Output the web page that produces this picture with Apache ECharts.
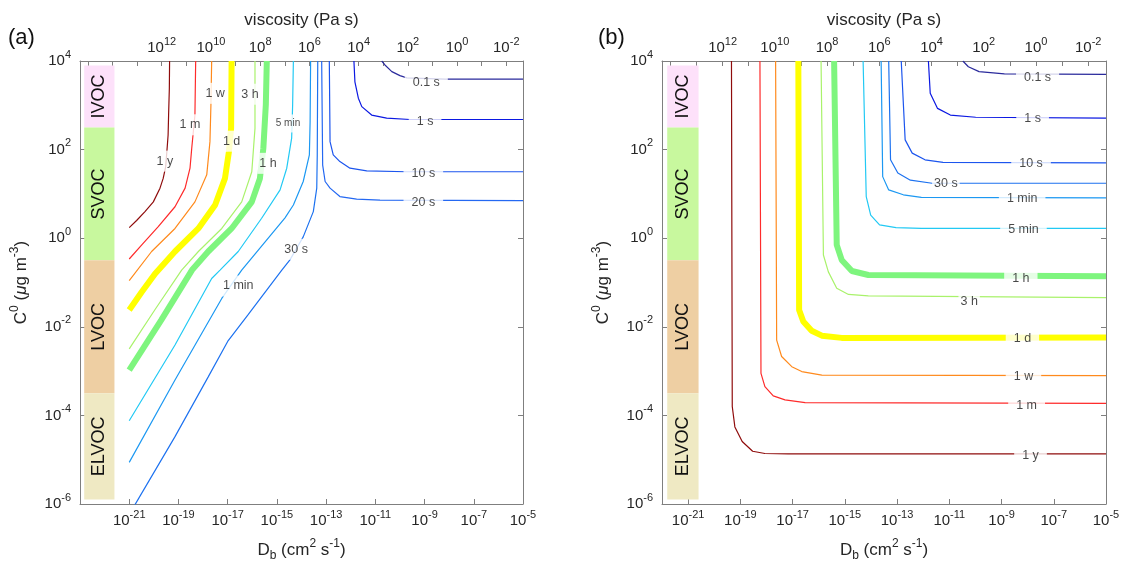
<!DOCTYPE html>
<html>
<head>
<meta charset="utf-8">
<title>equilibration time</title>
<script src="https://cdn.jsdelivr.net/npm/echarts@6.0.0/dist/echarts.min.js"></script>
<style>
  html, body { margin: 0; padding: 0; background: #fff; }
  #chart { width: 1126px; height: 574px; }
</style>
</head>
<body>
<div id="chart"></div>
<script>
// every value is a log10: x = log10(Db / cm2 s-1), y = log10(C0 / ug m-3)
const font = 'Liberation Sans, Arial, Helvetica, sans-serif'
const textColor = '#262626'
const axisColor = '#7f7f7f'

// log10(eta / Pa s) = viscosityOffset - log10(Db)
const viscosityOffset = -7.68

const dbTicks = [-21, -19, -17, -15, -13, -11, -9, -7, -5]
const viscosityTicks = [15, 14, 13, 12, 11, 10, 9, 8, 7, 6, 5, 4, 3, 2, 1, 0, -1, -2]
const viscosityLabels = [12, 10, 8, 6, 4, 2, 0, -2]

const bandNames = ['IVOC', 'SVOC', 'LVOC', 'ELVOC']
const bandLow = [2.5, -0.5, -3.5, -5.9]
const bandHigh = [3.9, 2.5, -0.5, -3.5]
const bandColors = ['#fde1fa', '#c8f89e', '#eecfa3', '#efe9c3']

const timeNames = ['1 y', '1 m', '1 w', '1 d', '3 h', '1 h', '5 min', '1 min', '30 s', '20 s', '10 s', '1 s', '0.1 s']
const timeColors = ['#8f0c0c', '#fe2b2b', '#ff8a1d', '#ffff00', '#a9f26b', '#7ef57e', '#22c9f4', '#1c98f2', '#1d72f0', '#2468f2', '#1c55ee', '#0b18e2', '#2a2a9c']
const thickTimes = ['1 d', '1 h']

// panel (a)
const dbRangeA = [-23, -5]
const bandDbA = [-22.83, -21.6]
const a1y = [[-21.0, 0.24], [-20.7, 0.4], [-20.36, 0.6], [-20.02, 0.82], [-19.75, 1.13], [-19.62, 1.35], [-19.52, 1.61], [-19.46, 2.03], [-19.42, 2.33], [-19.4, 2.78], [-19.37, 3.38], [-19.36, 4.0]]
const a1m = [[-21.0, -0.47], [-20.49, -0.15], [-19.82, 0.26], [-19.14, 0.71], [-18.73, 1.13], [-18.53, 1.58], [-18.46, 2.03], [-18.33, 2.78], [-18.3, 4.0]]
const a1w = [[-21.0, -0.96], [-20.09, -0.3], [-19.14, 0.22], [-18.33, 0.82], [-17.85, 1.43], [-17.72, 2.18], [-17.68, 3.01], [-17.65, 4.0]]
const a1d = [[-21.0, -1.62], [-20.5, -1.22], [-19.95, -0.8], [-19.14, -0.3], [-18.19, 0.22], [-17.51, 0.75], [-17.11, 1.35], [-16.95, 1.95], [-16.86, 2.48], [-16.84, 4.0]]
const a3h = [[-21.0, -2.5], [-19.95, -1.61], [-18.87, -0.72], [-18.19, -0.3], [-17.24, 0.22], [-16.43, 0.82], [-16.02, 1.5], [-15.89, 2.48], [-15.89, 4.0]]
const a1h = [[-21.0, -2.98], [-19.7, -1.85], [-18.45, -0.72], [-17.79, -0.3], [-16.84, 0.22], [-16.02, 0.82], [-15.69, 1.35], [-15.55, 2.03], [-15.45, 3.01], [-15.41, 4.0]]
const a5min = [[-21.0, -4.12], [-19.14, -2.41], [-17.65, -0.91], [-17.31, -0.72], [-16.57, -0.3], [-15.62, 0.45], [-14.87, 1.09], [-14.6, 1.58], [-14.4, 2.26], [-14.36, 3.01], [-14.33, 4.0]]
const a1min = [[-21.0, -5.06], [-19.14, -3.2], [-17.24, -1.36], [-16.43, -0.72], [-14.67, 0.46], [-14.33, 0.75], [-13.93, 1.28], [-13.68, 1.88], [-13.65, 2.63], [-13.63, 4.0]]
const a30s = [[-21.0, -6.25], [-20.77, -6.02], [-19.14, -4.48], [-17.79, -3.13], [-17.0, -2.33], [-16.16, -1.72], [-14.8, -0.72], [-14.47, -0.49], [-13.93, 0.03], [-13.52, 0.6], [-13.38, 1.13], [-13.36, 1.88], [-13.34, 4.0]]
const a20s = [[-13.18, 4.0], [-13.14, 1.65], [-13.04, 1.28], [-12.84, 1.13], [-12.44, 0.94], [-11.76, 0.88], [-10.81, 0.86], [-5, 0.85]]
const a10s = [[-12.87, 4.0], [-12.84, 2.18], [-12.71, 1.88], [-12.44, 1.73], [-12.03, 1.58], [-11.35, 1.52], [-9.72, 1.5], [-5, 1.5]]
const a1s = [[-11.87, 4.0], [-11.83, 3.53], [-11.69, 3.16], [-11.55, 2.97], [-11.15, 2.78], [-10.54, 2.71], [-9.59, 2.68], [-5, 2.68]]
const a01s = [[-10.74, 4.0], [-10.61, 3.91], [-10.33, 3.76], [-10.0, 3.67], [-9.72, 3.62], [-8.17, 3.59], [-5, 3.59]]
const labelsA = ['1 y', '1 m', '1 w', '1 d', '3 h', '1 h', '5 min', '1 min', '30 s', '20 s', '10 s', '1 s', '0.1 s']
const labelPosA = [[-19.55, 1.74], [-18.53, 2.56], [-17.51, 3.27], [-16.84, 2.19], [-16.09, 3.25], [-15.36, 1.69], [-14.55, 2.59], [-16.57, -1.08], [-14.22, -0.25], [-9.05, 0.8], [-9.05, 1.47], [-8.98, 2.64], [-8.93, 3.52]]
const smallLabelsA = ['5 min']
const wideGapLabelsA = ['20 s', '10 s', '1 s', '0.1 s']

// panel (b)
const dbRangeB = [-22, -5]
const bandDbB = [-21.8, -20.6]
const b1y = [[-19.34, 4.0], [-19.31, -3.8], [-19.21, -4.26], [-18.93, -4.59], [-18.53, -4.81], [-18.06, -4.86], [-17.16, -4.87], [-5, -4.87]]
const b1m = [[-18.25, 4.0], [-18.21, -3.05], [-18.06, -3.35], [-17.74, -3.56], [-17.29, -3.65], [-16.52, -3.71], [-5, -3.73]]
const b1w = [[-17.65, 4.0], [-17.61, -2.3], [-17.42, -2.67], [-17.03, -2.9], [-16.65, -3.01], [-15.88, -3.09], [-5, -3.1]]
const b1d = [[-16.78, 4.0], [-16.75, -1.62], [-16.59, -1.88], [-16.27, -2.09], [-15.88, -2.2], [-15.12, -2.25], [-5, -2.24]]
const b3h = [[-15.91, 4.0], [-15.82, -0.38], [-15.63, -0.76], [-15.31, -1.13], [-14.86, -1.27], [-14.1, -1.3], [-5, -1.34]]
const b1h = [[-15.41, 4.0], [-15.31, -0.15], [-15.12, -0.49], [-14.73, -0.74], [-14.1, -0.83], [-5, -0.86]]
const b5min = [[-14.3, 4.0], [-14.18, 0.94], [-14.01, 0.52], [-13.67, 0.3], [-13.04, 0.24], [-12.07, 0.22], [-5, 0.22]]
const b1min = [[-13.61, 4.0], [-13.55, 1.39], [-13.32, 1.09], [-12.76, 0.98], [-12.07, 0.92], [-5, 0.91]]
const b30s = [[-13.32, 4.0], [-13.25, 1.77], [-12.97, 1.47], [-12.49, 1.31], [-11.66, 1.24], [-5, 1.24]]
const b10s = [[-12.84, 4.0], [-12.69, 2.22], [-12.42, 1.92], [-11.93, 1.77], [-11.24, 1.71], [-5, 1.7]]
const b1s = [[-11.8, 4.0], [-11.73, 3.27], [-11.45, 2.93], [-10.96, 2.78], [-9.99, 2.73], [-5, 2.71]]
const b01s = [[-10.48, 4.0], [-10.27, 3.87], [-9.86, 3.76], [-8.89, 3.71], [-5, 3.7]]
const labelsB = ['1 y', '1 m', '1 w', '1 d', '3 h', '1 h', '5 min', '1 min', '30 s', '10 s', '1 s', '0.1 s']
const labelPosB = [[-7.89, -4.9], [-8.04, -3.78], [-8.16, -3.12], [-8.2, -2.27], [-10.24, -1.43], [-8.26, -0.9], [-8.16, 0.2], [-8.21, 0.89], [-11.13, 1.23], [-7.87, 1.68], [-7.81, 2.69], [-7.62, 3.62]]

const curvesA = [a1y, a1m, a1w, a1d, a3h, a1h, a5min, a1min, a30s, a20s, a10s, a1s, a01s]
const curvesB = [b1y, b1m, b1w, b1d, b3h, b1h, b5min, b1min, b30s, b10s, b1s, b01s]

const chart = echarts.init(document.getElementById('chart'))

const supRich = {
  n: { fontSize: 15, fontFamily: font, color: textColor, lineHeight: 24 },
  e: { fontSize: 11, fontFamily: font, color: textColor, lineHeight: 11, verticalAlign: 'top' },
}
const nameRich = {
  t: { fontSize: 17, fontFamily: font, color: textColor, lineHeight: 24 },
  mu: { fontSize: 17, fontFamily: font, fontStyle: 'italic', color: textColor, lineHeight: 24 },
  sup: { fontSize: 12, fontFamily: font, color: textColor, lineHeight: 12, verticalAlign: 'top' },
  sub: { fontSize: 12, fontFamily: font, color: textColor, lineHeight: 12, verticalAlign: 'bottom' },
}
const pow10 = v => `{n|10}{e|${v}}`

const axisLine = { show: true, onZero: false, lineStyle: { color: axisColor, width: 1 } }
const tickStyle = { color: axisColor, width: 1 }

function panelAxes(gridIndex, dbRange) {
  const viscosityPos = viscosityTicks.map(k => viscosityOffset - k).filter(v => v >= dbRange[0] && v <= dbRange[1])
  const x = [
    {
      type: 'value', gridIndex, position: 'bottom', min: dbRange[0], max: dbRange[1],
      axisLine,
      axisTick: { show: true, inside: true, length: 5, customValues: dbTicks, lineStyle: tickStyle },
      axisLabel: { customValues: dbTicks, margin: 5, formatter: v => pow10(Math.round(v)), rich: supRich },
      splitLine: { show: false },
      name: '{t|D}{sub|b}{t| (cm}{sup|2}{t| s}{sup|-1}{t|)}',
      nameLocation: 'middle', nameGap: 34, nameTextStyle: { rich: nameRich },
    },
    {
      type: 'value', gridIndex, position: 'top', min: dbRange[0], max: dbRange[1],
      axisLine,
      axisTick: { show: true, inside: true, length: 5, customValues: viscosityPos, lineStyle: tickStyle },
      axisLabel: {
        customValues: viscosityLabels.map(k => viscosityOffset - k),
        margin: 1, formatter: v => pow10(Math.round(viscosityOffset - v)), rich: supRich,
      },
      splitLine: { show: false },
      name: 'viscosity (Pa s)',
      nameLocation: 'middle', nameGap: 32,
      nameTextStyle: { fontSize: 17, fontFamily: font, color: textColor },
    },
  ]
  const y = [
    {
      type: 'value', gridIndex, position: 'left', min: -6, max: 4, interval: 2,
      axisLine,
      axisTick: { show: true, inside: true, length: 5, lineStyle: tickStyle },
      axisLabel: { margin: 9, formatter: v => pow10(Math.round(v)), rich: supRich },
      splitLine: { show: false },
      name: '{t|C}{sup|0}{t| (}{mu|μ}{t|g m}{sup|-3}{t|)}',
      nameLocation: 'middle', nameGap: 47, nameTextStyle: { rich: nameRich },
    },
    {
      type: 'value', gridIndex, position: 'right', min: -6, max: 4, interval: 2,
      axisLine,
      axisTick: { show: true, inside: true, length: 5, lineStyle: tickStyle },
      axisLabel: { show: false },
      splitLine: { show: false },
    },
  ]
  return { x, y }
}

function panelSeries(p, curves, labels, labelPos, bandDb, smallLabels, wideGapLabels) {
  const axes = { xAxisIndex: p * 2, yAxisIndex: p * 2 }
  const series = [{
    type: 'custom', ...axes, z: 1, silent: true,
    encode: { x: [0, 1], y: [2, 3] },
    data: bandNames.map((n, i) => [bandDb[0], bandDb[1], bandLow[i], bandHigh[i]]),
    renderItem: (params, api) => {
      const lt = api.coord([api.value(0), api.value(3)])
      const rb = api.coord([api.value(1), api.value(2)])
      return {
        type: 'group',
        children: [
          {
            type: 'rect',
            shape: { x: lt[0], y: lt[1], width: rb[0] - lt[0], height: rb[1] - lt[1] },
            style: { fill: bandColors[params.dataIndex] },
          },
          {
            type: 'text', x: (lt[0] + rb[0]) / 2, y: (lt[1] + rb[1]) / 2, rotation: Math.PI / 2,
            style: {
              text: bandNames[params.dataIndex], font: `18px ${font}`, fill: '#111',
              align: 'center', verticalAlign: 'middle',
            },
          },
        ],
      }
    },
  }]

  curves.forEach((data, i) => {
    const name = labels[i]
    const c = timeColors[timeNames.indexOf(name)]
    series.push({
      type: 'line', ...axes, name, data, z: 2, silent: true,
      showSymbol: false, symbol: 'none',
      lineStyle: { color: c, width: thickTimes.includes(name) ? 6 : 1.2 },
    })
  })

  series.push({
    type: 'scatter', ...axes, z: 10, silent: true, symbolSize: 0,
    data: labels.map((t, i) => {
      const label = {}
      if (smallLabels.includes(t)) label.fontSize = 10
      if (wideGapLabels.includes(t)) label.padding = [3, 8]
      return { name: t, value: labelPos[i], label }
    }),
    label: {
      show: true, position: 'inside', formatter: '{b}',
      fontSize: 12.5, fontFamily: font, color: '#1a1a1a',
      backgroundColor: '#fff', padding: [4, 2],
    },
  })
  return series
}

const axesA = panelAxes(0, dbRangeA)
const axesB = panelAxes(1, dbRangeB)

const option = {
  animation: false,
  backgroundColor: '#fff',
  grid: [
    { left: 80, top: 61, width: 443, height: 443 },
    { left: 662, top: 61, width: 444, height: 443 },
  ],
  xAxis: [...axesA.x, ...axesB.x],
  yAxis: [...axesA.y, ...axesB.y],
  graphic: [
    { type: 'text', left: 8, top: 27, style: { text: '(a)', font: `22px ${font}`, fill: '#111' } },
    { type: 'text', left: 598, top: 27, style: { text: '(b)', font: `22px ${font}`, fill: '#111' } },
  ],
  series: [
    ...panelSeries(0, curvesA, labelsA, labelPosA, bandDbA, smallLabelsA, wideGapLabelsA),
    ...panelSeries(1, curvesB, labelsB, labelPosB, bandDbB, [], labelsB.filter(t => t !== '30 s' && t !== '3 h')),
  ],
}

chart.setOption(option)
</script>
</body>
</html>
